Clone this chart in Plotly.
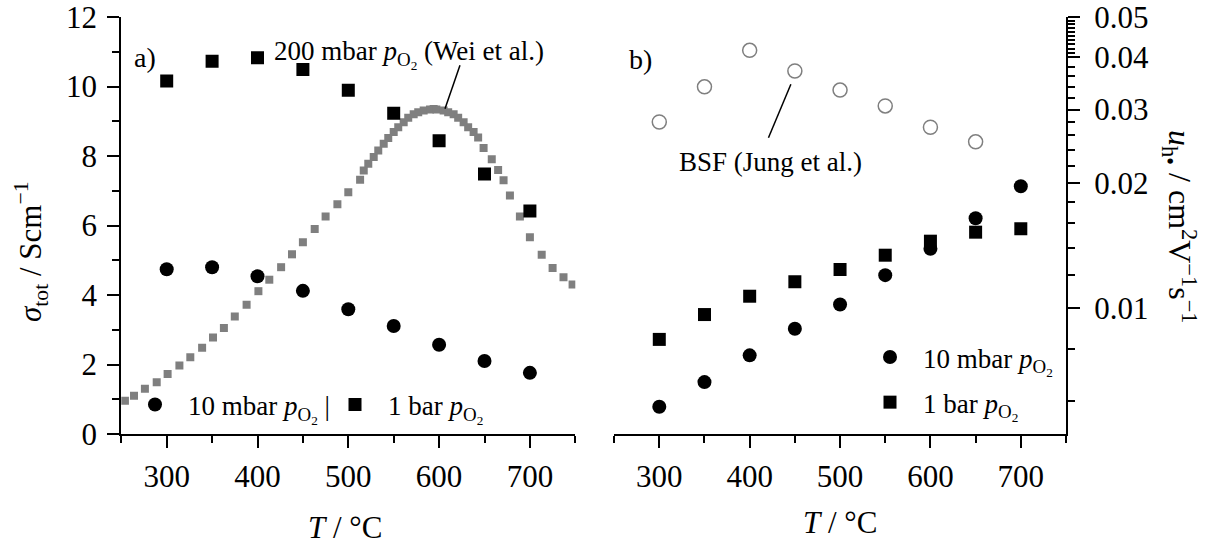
import numpy as np
import plotly.graph_objects as go

# ---------------- data ----------------
T_meas = [300, 350, 400, 450, 500, 550, 600, 650, 700]
sigma_10mbar = [4.74, 4.80, 4.54, 4.12, 3.59, 3.11, 2.57, 2.10, 1.76]
sigma_1bar = [10.16, 10.73, 10.83, 10.49, 9.89, 9.23, 8.44, 7.48, 6.42]

T_wei = [254, 264, 276, 289, 301, 314, 326, 339, 351, 363, 375, 388, 401, 413,
         426, 438, 450, 463, 475, 488, 500, 513, 517, 522, 528, 533, 539, 544,
         550, 555, 561, 566, 572, 577, 583, 590, 594, 597, 605, 610, 616, 621,
         627, 632, 638, 643, 649, 658, 665, 671, 678, 689, 700, 713, 725, 737, 747]
sigma_wei = [0.96, 1.10, 1.30, 1.49, 1.73, 1.97, 2.21, 2.48, 2.78, 3.05, 3.38, 3.72,
             4.11, 4.44, 4.80, 5.17, 5.52, 5.90, 6.26, 6.61, 6.96, 7.32, 7.58, 7.78,
             7.97, 8.16, 8.35, 8.52, 8.69, 8.83, 8.97, 9.10, 9.20, 9.26, 9.31, 9.34,
             9.35, 9.34, 9.31, 9.26, 9.20, 9.10, 8.97, 8.83, 8.69, 8.53, 8.23, 7.91,
             7.60, 7.30, 6.86, 6.26, 5.66, 5.16, 4.78, 4.51, 4.30]

mu_10mbar = [0.00581, 0.00666, 0.00772, 0.00894, 0.01022, 0.01202, 0.0139, 0.01646, 0.01964]
mu_1bar = [0.00843, 0.00967, 0.0107, 0.01159, 0.0124, 0.01342, 0.0145, 0.01524, 0.01553]
T_bsf = [300, 350, 400, 450, 500, 550, 600, 650]
mu_bsf = [0.0280, 0.0340, 0.0416, 0.0371, 0.0334, 0.0306, 0.0272, 0.0251]

# pointer lines for the literature labels
wei_line_T = [606.5, 623]
wei_line_sigma = [9.36, 10.61]
bsf_line_T = [420.8, 445.6]
bsf_line_mu = [0.02566, 0.0345]

mu_major = [0.01, 0.02, 0.03, 0.04, 0.05]
mu_major_text = ["0.01", "0.02", "0.03", "0.04", "0.05"]
mu_minor_right = [0.006, 0.008, 0.012, 0.014, 0.016, 0.018, 0.022, 0.024, 0.026, 0.028,
                  0.032, 0.034, 0.036, 0.038,
                  0.041, 0.042, 0.043, 0.044, 0.045, 0.046, 0.047, 0.048, 0.049]
mu_minor_left = [0.006, 0.008, 0.012, 0.014, 0.016, 0.018, 0.022, 0.024, 0.026, 0.028,
                 0.031, 0.032, 0.033, 0.034, 0.035, 0.036, 0.037, 0.038, 0.039,
                 0.041, 0.042, 0.043, 0.044, 0.045, 0.046, 0.047, 0.048, 0.049]

FONT = "Liberation Serif"
PO2 = "<i>p</i><sub>O<sub>2</sub></sub>"
GRAY = "#7f7f7f"

fig = go.Figure()

# ---------------- panel a ----------------
fig.add_trace(go.Scatter(x=T_wei, y=sigma_wei, mode="markers", xaxis="x", yaxis="y",
                         marker=dict(symbol="square", size=8, color=GRAY),
                         showlegend=False, hoverinfo="skip"))
fig.add_trace(go.Scatter(x=wei_line_T, y=wei_line_sigma, mode="lines", xaxis="x", yaxis="y",
                         line=dict(color="black", width=1.5), showlegend=False))
fig.add_trace(go.Scatter(x=T_meas, y=sigma_10mbar, mode="markers", xaxis="x", yaxis="y",
                         name="10 mbar " + PO2 + " |", legend="legend",
                         marker=dict(symbol="circle", size=14, color="black")))
fig.add_trace(go.Scatter(x=T_meas, y=sigma_1bar, mode="markers", xaxis="x", yaxis="y",
                         name="1 bar " + PO2, legend="legend",
                         marker=dict(symbol="square", size=13, color="black")))

# ---------------- panel b ----------------
fig.add_trace(go.Scatter(x=T_bsf, y=mu_bsf, mode="markers", xaxis="x2", yaxis="y2",
                         marker=dict(symbol="circle-open", size=14, color=GRAY,
                                     line=dict(width=1.5, color=GRAY)),
                         showlegend=False))
fig.add_trace(go.Scatter(x=bsf_line_T, y=bsf_line_mu, mode="lines", xaxis="x2", yaxis="y2",
                         line=dict(color="black", width=1.5), showlegend=False))
fig.add_trace(go.Scatter(x=T_meas, y=mu_10mbar, mode="markers", xaxis="x2", yaxis="y2",
                         name="10 mbar " + PO2, legend="legend2", legendgroup="g1",
                         marker=dict(symbol="circle", size=14, color="black")))
fig.add_trace(go.Scatter(x=T_meas, y=mu_1bar, mode="markers", xaxis="x2", yaxis="y2",
                         name="1 bar " + PO2, legend="legend2", legendgroup="g2",
                         marker=dict(symbol="square", size=13, color="black")))

W, H = 1208, 545
ydom = [(H - 434) / H, (H - 17) / H]
xdom_a = [121.3 / W, 575.3 / W]
xdom_b = [614.1 / W, 1066.0 / W]

tickfont = dict(family=FONT, size=31, color="black")
common_x = dict(range=[250, 750], tick0=300, dtick=100, ticklen=12, tickwidth=2,
                tickcolor="black", showline=True, linewidth=2, linecolor="black",
                showgrid=False, zeroline=False, tickfont=tickfont, automargin=False,
                ticklabeloverflow="allow",
                minor=dict(tick0=250, dtick=50, ticklen=7, tickwidth=2,
                           tickcolor="black", showgrid=False))


def x_axis(ticks, **kw):
    d = {**common_x, "minor": {**common_x["minor"], "ticks": ticks}}
    d.update(ticks=ticks, **kw)
    return d


fig.update_layout(
    width=W, height=H,
    margin=dict(l=0, r=0, t=0, b=0, autoexpand=False),
    paper_bgcolor="white", plot_bgcolor="white",
    font=dict(family=FONT, size=27, color="black"),
    showlegend=True,
    xaxis=x_axis("outside", domain=xdom_a, anchor="y", ticklabelstandoff=2),
    xaxis3=x_axis("inside", overlaying="x", side="top", anchor="y", showticklabels=False),
    xaxis2=x_axis("outside", domain=xdom_b, anchor="y2", ticklabelstandoff=2),
    xaxis4=x_axis("inside", overlaying="x2", side="top", anchor="y2", showticklabels=False),
    yaxis=dict(domain=ydom, anchor="x", range=[0, 12], dtick=2, ticks="outside", ticklen=12,
               tickwidth=2, tickcolor="black", showline=True, linewidth=2, linecolor="black",
               showgrid=False, zeroline=False, tickfont=tickfont, ticklabelstandoff=4,
               automargin=False, ticklabeloverflow="allow",
               minor=dict(dtick=1, ticks="outside", ticklen=7, tickwidth=2, tickcolor="black")),
    yaxis3=dict(overlaying="y", side="right", anchor="x", range=[0, 12], dtick=2,
                ticks="inside", ticklen=12, tickwidth=2, tickcolor="black", showline=True,
                linewidth=2, linecolor="black", showgrid=False, zeroline=False,
                showticklabels=False, automargin=False,
                minor=dict(dtick=1, ticks="inside", ticklen=7, tickwidth=2, tickcolor="black")),
    yaxis2=dict(domain=ydom, anchor="x2", side="right", type="log",
                range=[np.log10(0.005), np.log10(0.05)],
                tickmode="array", tickvals=mu_major, ticktext=mu_major_text,
                ticks="outside", ticklen=12, tickwidth=2, tickcolor="black",
                showline=True, linewidth=2, linecolor="black", showgrid=False,
                zeroline=False, tickfont=tickfont, ticklabelstandoff=8, automargin=False,
                ticklabeloverflow="allow",
                minor=dict(tickmode="array", tickvals=mu_minor_right, ticks="outside",
                           ticklen=7, tickwidth=2, tickcolor="black")),
    yaxis4=dict(overlaying="y2", anchor="x2", side="left", type="log",
                range=[np.log10(0.005), np.log10(0.05)],
                tickmode="array", tickvals=mu_major, ticktext=[""] * len(mu_major),
                ticks="inside", ticklen=12, tickwidth=2, tickcolor="black",
                showline=True, linewidth=2, linecolor="black", showgrid=False,
                zeroline=False, showticklabels=False, automargin=False,
                minor=dict(tickmode="array", tickvals=mu_minor_left, ticks="inside",
                           ticklen=7, tickwidth=2, tickcolor="black")),
    legend=dict(orientation="h", x=122 / W, y=(H - 405) / H, xanchor="left", yanchor="middle",
                font=dict(family=FONT, size=27), bgcolor="rgba(0,0,0,0)",
                itemwidth=56, entrywidth=129, entrywidthmode="pixels", traceorder="normal"),
    legend2=dict(orientation="v", x=857 / W, y=(H - 380) / H, xanchor="left", yanchor="middle",
                 font=dict(family=FONT, size=27), bgcolor="rgba(0,0,0,0)",
                 itemwidth=56, tracegroupgap=7, traceorder="grouped"),
)

annotations = [
    dict(text="a)", xref="x domain", yref="y domain", x=0.023, y=0.9017,
         xanchor="left", yanchor="middle", showarrow=False, font=dict(size=28)),
    dict(text="b)", xref="x2 domain", yref="y2 domain", x=0.028, y=0.897,
         xanchor="left", yanchor="middle", showarrow=False, font=dict(size=28)),
    dict(text="200 mbar " + PO2 + " (Wei et al.)", xref="x", yref="y", x=566.8, y=10.92,
         xanchor="center", yanchor="middle", showarrow=False, font=dict(size=27)),
    dict(text="BSF (Jung et al.)", xref="x2", yref="y2", x=423.2, y=np.log10(0.0224),
         xanchor="center", yanchor="middle", showarrow=False, font=dict(size=27)),
    dict(text="<i>T</i> / °C", xref="paper", yref="paper", x=345 / W, y=(H - 527) / H,
         xanchor="center", yanchor="middle", showarrow=False, font=dict(size=31)),
    dict(text="<i>T</i> / °C", xref="paper", yref="paper", x=840 / W, y=(H - 522) / H,
         xanchor="center", yanchor="middle", showarrow=False, font=dict(size=31)),
    dict(text="<i>σ</i><sub>tot</sub> / Scm<sup>−1</sup>", xref="paper", yref="paper",
         x=31 / W, y=(H - 252) / H, xanchor="center", yanchor="middle", textangle=-90,
         showarrow=False, font=dict(size=31)),
    dict(text="<i>u</i><sub>h•</sub> / cm<sup>2</sup>V<sup>−1</sup>s<sup>−1</sup>",
         xref="paper", yref="paper", x=1180 / W, y=(H - 226) / H,
         xanchor="center", yanchor="middle", textangle=90, showarrow=False,
         font=dict(size=32)),
]
fig.update_layout(annotations=annotations)

fig.write_html("out.html")
